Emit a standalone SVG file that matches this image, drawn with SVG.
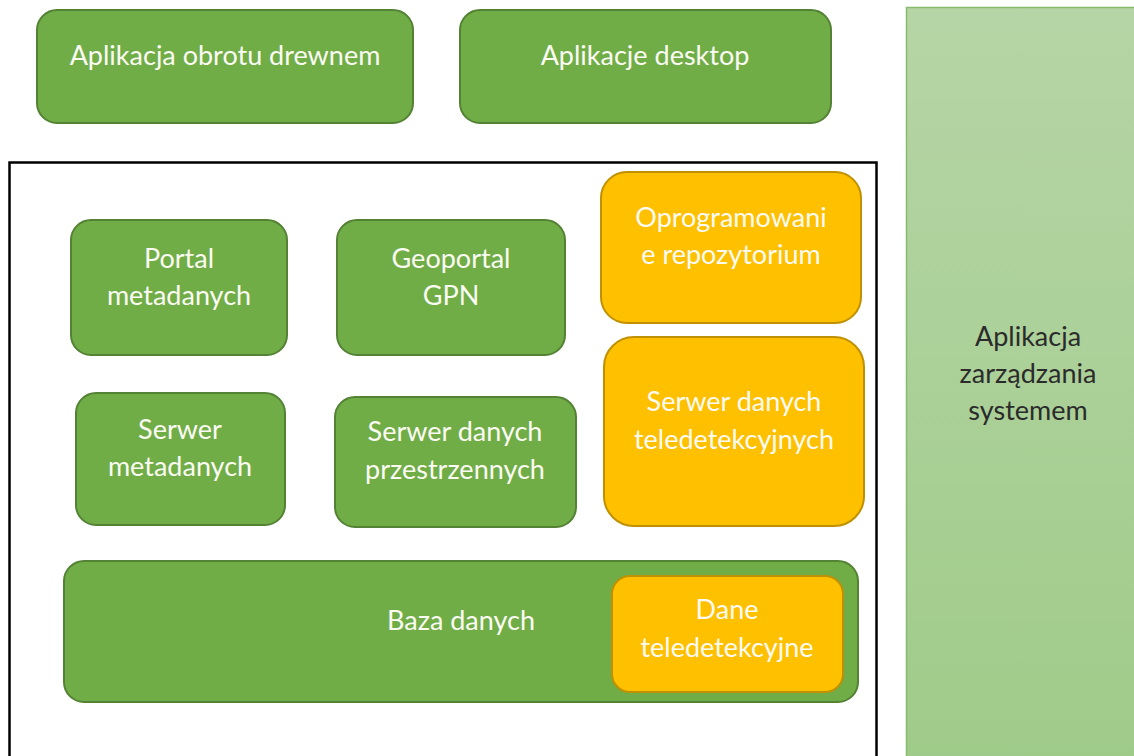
<svg xmlns="http://www.w3.org/2000/svg" width="1134" height="756" viewBox="0 0 1134 756">
<style>
.g{fill:#70ad47;stroke:#548235;stroke-width:2}
.y{fill:#ffc000;stroke:#bf9000;stroke-width:2}
.t{font-family:Lato,"Open Sans","Liberation Sans",sans-serif;font-size:27px;fill:#fbfbf3;text-anchor:middle}
.d{font-family:Lato,"Open Sans","Liberation Sans",sans-serif;font-size:27px;fill:#2b2b2b;text-anchor:middle}
</style>
<defs>
<linearGradient id="pg" x1="0" y1="0" x2="0" y2="1">
<stop offset="0" stop-color="#b6d5a6"/>
<stop offset="1" stop-color="#9fcb89"/>
</linearGradient>
</defs>
<rect width="1134" height="756" fill="#ffffff"/>
<g id="panel">
<rect x="906.5" y="7.5" width="240" height="760" fill="url(#pg)" stroke="#86bd6c" stroke-width="1.5"/>
<text class="d" x="1028"><tspan x="1028" y="346">Aplikacja</tspan><tspan x="1028" y="383">zarządzania</tspan><tspan x="1028" y="420">systemem</tspan></text>
</g>
<g id="app-obrot">
<rect class="g" x="37" y="10" width="376" height="113" rx="20"/>
<text class="t" x="225" y="65">Aplikacja obrotu drewnem</text>
</g>
<g id="app-desktop">
<rect class="g" x="460" y="10" width="371" height="113" rx="20"/>
<text class="t" x="645" y="65">Aplikacje desktop</text>
</g>
<g id="container">
<rect x="9.5" y="162.5" width="867" height="620" fill="none" stroke="#000" stroke-width="2.5"/>
</g>
<g id="portal">
<rect class="g" x="71" y="220" width="216" height="135" rx="20"/>
<text class="t"><tspan x="179" y="268">Portal</tspan><tspan x="179" y="305">metadanych</tspan></text>
</g>
<g id="geoportal">
<rect class="g" x="337" y="220" width="228" height="135" rx="20"/>
<text class="t"><tspan x="451" y="268">Geoportal</tspan><tspan x="451" y="305">GPN</tspan></text>
</g>
<g id="repo">
<rect class="y" x="601" y="172" width="260" height="151" rx="26"/>
<text class="t"><tspan x="731" y="227">Oprogramowani</tspan><tspan x="731" y="264">e repozytorium</tspan></text>
</g>
<g id="serwer-meta">
<rect class="g" x="76" y="393" width="209" height="132" rx="20"/>
<text class="t"><tspan x="180" y="439">Serwer</tspan><tspan x="180" y="476">metadanych</tspan></text>
</g>
<g id="serwer-przestrzenne">
<rect class="g" x="335" y="397" width="241" height="130" rx="20"/>
<text class="t"><tspan x="455" y="441">Serwer danych</tspan><tspan x="455" y="479">przestrzennych</tspan></text>
</g>
<g id="serwer-tele">
<rect class="y" x="604" y="337" width="260" height="189" rx="30"/>
<text class="t"><tspan x="734" y="411">Serwer danych</tspan><tspan x="734" y="449">teledetekcyjnych</tspan></text>
</g>
<g id="baza">
<rect class="g" x="64" y="561" width="794" height="141" rx="20"/>
<text class="t" x="461" y="630">Baza danych</text>
</g>
<g id="dane-tele">
<rect class="y" x="612" y="576" width="231" height="116" rx="18"/>
<text class="t"><tspan x="727" y="619">Dane</tspan><tspan x="727" y="657">teledetekcyjne</tspan></text>
</g>
<g id="connectors"></g>
</svg>
